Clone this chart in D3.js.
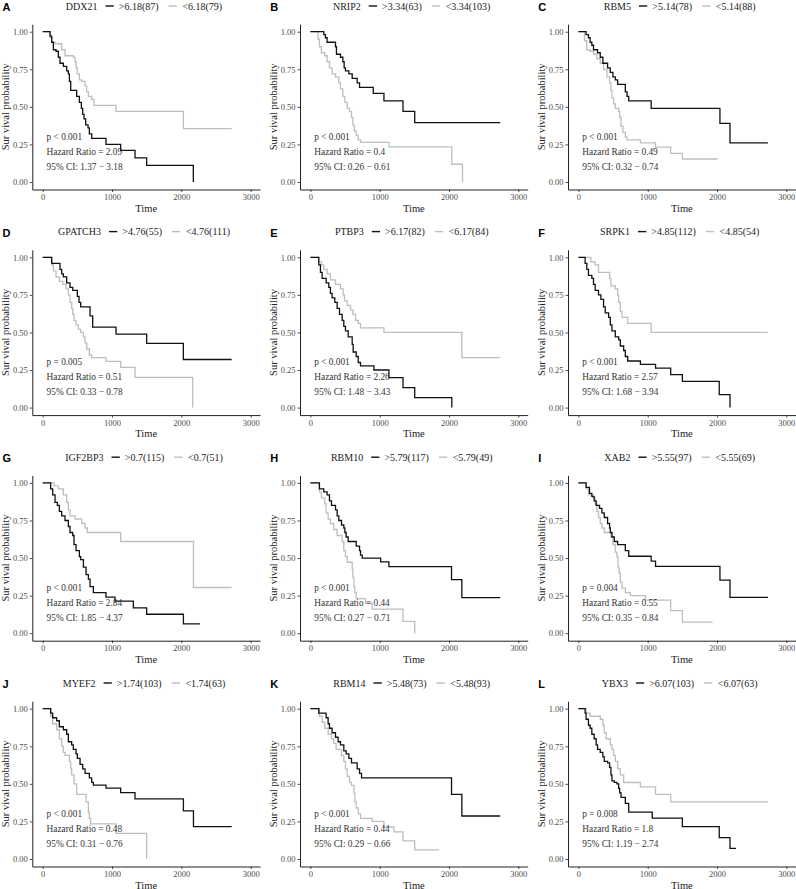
<!DOCTYPE html>
<html>
<head>
<meta charset="utf-8">
<script src="https://cdnjs.cloudflare.com/ajax/libs/d3/7.8.5/d3.min.js"></script>
<style>
  body { margin: 0; background: #fff; }
  text { font-family: 'Liberation Serif', 'Times New Roman', serif; }
</style>
</head>
<body>
<svg></svg>
<script>
'use strict';

// Panel labels and texts
var panelLetters = ['A', 'B', 'C', 'D', 'E', 'F', 'G', 'H', 'I', 'J', 'K', 'L'];
var genes = ['DDX21', 'NRIP2', 'RBM5', 'GPATCH3', 'PTBP3', 'SRPK1', 'IGF2BP3', 'RBM10', 'XAB2', 'MYEF2', 'RBM14', 'YBX3'];
var cutoffs = ['6.18', '3.34', '5.14', '4.76', '6.17', '4.85', '0.7', '5.79', '5.55', '1.74', '5.48', '6.07'];
var highN = [87, 63, 78, 55, 82, 112, 115, 117, 97, 103, 73, 103];
var lowN = [79, 103, 88, 111, 84, 54, 51, 49, 69, 63, 93, 63];
var pLabels = ['p < 0.001', 'p < 0.001', 'p < 0.001', 'p = 0.005', 'p < 0.001', 'p < 0.001',
  'p < 0.001', 'p < 0.001', 'p = 0.004', 'p < 0.001', 'p < 0.001', 'p = 0.008'];
var hazardRatios = ['2.09', '0.4', '0.49', '0.51', '2.26', '2.57', '2.84', '0.44', '0.55', '0.48', '0.44', '1.8'];
var ciLabels = ['1.37 \u2212 3.18', '0.26 \u2212 0.61', '0.32 \u2212 0.74', '0.33 \u2212 0.78', '1.48 \u2212 3.43', '1.68 \u2212 3.94',
  '1.85 \u2212 4.37', '0.27 \u2212 0.71', '0.35 \u2212 0.84', '0.31 \u2212 0.76', '0.29 \u2212 0.66', '1.19 \u2212 2.74'];
var xTicks = [0, 1000, 2000, 3000];
var yTicks = [0, 0.25, 0.5, 0.75, 1];

// Kaplan-Meier steps: [time, survival after that time]
var ddx21High = [[0,1],[106,.97],[130,.93],[154,.88],[192,.87],[226,.83],[250,.79],[298,.77],[346,.74],[370,.72],[385,.67],[404,.61],[490,.57],[529,.53],[558,.49],[577,.45],[596,.42],[620,.38],[654,.36],[673,.32],[707,.29],[913,.25],[1125,.21],[1332,.16],[1500,.11],[2173,0]];
var ddx21Low = [[0,1],[106,.96],[130,.93],[178,.92],[274,.88],[322,.84],[442,.83],[466,.80],[481,.76],[500,.72],[529,.68],[563,.67],[611,.64],[635,.60],[659,.57],[707,.55],[740,.51],[1058,.47],[2030,.355],[2726,.355]];
var nrip2High = [[0,1],[193,.98],[217,.96],[241,.93],[362,.90],[376,.85],[434,.83],[468,.80],[487,.76],[506,.74],[555,.72],[603,.69],[675,.66],[709,.63],[907,.59],[1061,.54],[1336,.47],[1505,.395],[2739,.395]];
var nrip2Low = [[0,1],[111,.95],[130,.90],[159,.86],[207,.84],[241,.80],[275,.76],[313,.72],[362,.70],[410,.66],[434,.62],[468,.57],[497,.53],[531,.49],[564,.47],[593,.43],[613,.38],[632,.34],[661,.31],[690,.28],[723,.264],[1133,.233],[2040,.118],[2194,0]];
var rbm5High = [[0,1],[111,.98],[145,.96],[169,.93],[194,.91],[218,.88],[276,.86],[315,.83],[353,.79],[421,.76],[460,.73],[498,.70],[532,.68],[566,.65],[677,.60],[702,.57],[726,.54],[1050,.49],[2042,.39],[2187,.26],[2734,.26]];
var rbm5Low = [[0,1],[87,.94],[121,.88],[169,.87],[218,.85],[266,.82],[315,.79],[363,.75],[411,.70],[450,.66],[469,.61],[484,.56],[508,.52],[532,.49],[581,.47],[595,.43],[615,.37],[643,.33],[677,.30],[702,.28],[895,.26],[1113,.232],[1331,.19],[1500,.153],[2008,.153]];
var gpatch3High = [[0,1],[130,.96],[250,.92],[274,.89],[298,.87],[346,.83],[394,.80],[433,.78],[500,.74],[524,.70],[548,.67],[683,.61],[721,.535],[1058,.489],[1500,.427],[2029,.32],[2726,.32]];
var gpatch3Low = [[0,1],[130,.95],[154,.91],[192,.87],[240,.84],[288,.82],[337,.79],[370,.75],[394,.70],[418,.66],[433,.62],[452,.58],[481,.55],[514,.52],[548,.50],[587,.47],[611,.43],[635,.39],[673,.35],[707,.332],[913,.308],[1125,.268],[1332,.201],[2164,0]];
var ptbp3High = [[0,1],[121,.95],[145,.90],[169,.86],[227,.83],[265,.80],[289,.76],[313,.73],[352,.70],[386,.66],[420,.62],[458,.58],[482,.54],[506,.51],[545,.47],[603,.42],[617,.37],[661,.34],[690,.30],[723,.277],[916,.25],[1133,.20],[1336,.133],[1505,.066],[2040,0]];
var ptbp3Low = [[0,1],[121,.97],[159,.95],[193,.92],[241,.89],[289,.85],[362,.82],[434,.79],[473,.75],[492,.71],[531,.68],[579,.65],[613,.62],[651,.58],[690,.56],[723,.53],[1061,.50],[2185,.332],[2739,.332]];
var srpk1High = [[0,1],[97,.96],[121,.92],[145,.88],[194,.86],[218,.82],[242,.78],[290,.75],[324,.72],[363,.67],[387,.63],[436,.60],[460,.55],[484,.51],[532,.47],[581,.45],[605,.41],[653,.38],[677,.34],[711,.31],[895,.288],[1113,.263],[1331,.219],[1500,.175],[2032,.086],[2187,0]];
var srpk1Low = [[0,1],[179,.97],[242,.95],[290,.90],[450,.86],[469,.81],[532,.79],[566,.75],[581,.70],[605,.64],[629,.60],[711,.56],[1050,.50],[2734,.50]];
var igf2bp3High = [[0,1],[115,.96],[144,.92],[178,.87],[212,.85],[240,.81],[274,.78],[322,.75],[370,.71],[394,.67],[433,.65],[452,.59],[481,.55],[529,.51],[548,.49],[587,.44],[625,.39],[659,.36],[683,.31],[731,.27],[913,.24],[1043,.213],[1308,.169],[1500,.126],[2030,.062],[2269,.062]];
var igf2bp3Low = [[0,1],[163,.98],[226,.96],[298,.92],[346,.87],[370,.82],[394,.78],[466,.76],[563,.73],[611,.70],[644,.67],[1125,.61],[2175,.304],[2726,.304]];
var rbm10High = [[0,1],[130,.96],[193,.94],[241,.92],[275,.88],[304,.85],[362,.82],[386,.78],[410,.75],[449,.72],[482,.70],[497,.67],[516,.64],[545,.61],[661,.58],[709,.55],[723,.52],[748,.50],[1013,.474],[1133,.443],[2036,.357],[2185,.237],[2739,.237]];
var rbm10Low = [[0,1],[130,.94],[159,.90],[207,.86],[227,.80],[256,.76],[289,.73],[338,.69],[386,.65],[458,.61],[482,.55],[506,.51],[531,.472],[603,.43],[613,.37],[627,.31],[641,.27],[661,.23],[796,.20],[892,.16],[1336,.078],[1505,0]];
var xab2High = [[0,1],[111,.97],[160,.93],[194,.91],[227,.88],[256,.85],[305,.83],[339,.80],[373,.77],[421,.73],[450,.70],[460,.67],[484,.64],[518,.61],[566,.59],[677,.55],[726,.512],[1050,.48],[1113,.444],[2042,.353],[2187,.238],[2734,.238]];
var xab2Low = [[0,1],[111,.96],[145,.92],[208,.90],[242,.86],[266,.81],[290,.77],[315,.73],[339,.70],[373,.67],[469,.64],[498,.59],[532,.54],[556,.51],[571,.44],[586,.40],[605,.34],[629,.30],[677,.27],[750,.25],[968,.22],[1331,.15],[1500,.073],[1936,.073]];
var myef2High = [[0,1],[115,.97],[144,.94],[202,.92],[240,.88],[298,.86],[346,.83],[370,.78],[418,.76],[442,.73],[481,.70],[500,.67],[539,.63],[577,.60],[611,.57],[673,.54],[707,.51],[731,.492],[913,.472],[1125,.441],[1332,.40],[2030,.32],[2175,.215],[2726,.215]];
var myef2Low = [[0,1],[115,.95],[144,.90],[202,.86],[240,.80],[274,.75],[298,.71],[322,.69],[385,.65],[404,.60],[418,.56],[452,.50],[490,.43],[625,.38],[659,.31],[673,.27],[692,.233],[1058,.171],[1500,0]];
var rbm14High = [[0,1],[121,.97],[227,.94],[256,.90],[275,.87],[313,.84],[362,.81],[400,.78],[434,.76],[482,.72],[516,.70],[555,.67],[593,.64],[675,.60],[709,.57],[738,.54],[2036,.43],[2185,.286],[2739,.286]];
var rbm14Low = [[0,1],[130,.95],[169,.91],[207,.87],[256,.83],[304,.80],[338,.77],[371,.73],[449,.69],[482,.65],[506,.60],[531,.55],[564,.51],[593,.49],[627,.44],[641,.38],[661,.34],[690,.30],[723,.27],[892,.25],[1061,.213],[1206,.18],[1336,.12],[1505,.06],[1857,.06]];
var ybx3High = [[0,1],[97,.97],[111,.93],[145,.89],[169,.87],[194,.83],[227,.80],[256,.76],[276,.73],[315,.71],[353,.68],[373,.65],[421,.64],[450,.61],[469,.56],[484,.52],[518,.51],[556,.50],[581,.47],[595,.44],[615,.41],[677,.37],[726,.312],[1065,.272],[1500,.215],[2032,.142],[2187,.071],[2274,.071]];
var ybx3Low = [[0,1],[111,.97],[169,.95],[315,.93],[353,.89],[373,.84],[402,.80],[460,.76],[484,.73],[508,.69],[532,.65],[566,.60],[605,.56],[653,.509],[895,.48],[1113,.43],[1331,.38],[2734,.38]];

var highCurves = [ddx21High, nrip2High, rbm5High, gpatch3High, ptbp3High, srpk1High,
  igf2bp3High, rbm10High, xab2High, myef2High, rbm14High, ybx3High];
var lowCurves = [ddx21Low, nrip2Low, rbm5Low, gpatch3Low, ptbp3Low, srpk1Low,
  igf2bp3Low, rbm10Low, xab2Low, myef2Low, rbm14Low, ybx3Low];

var canvasWidth = 796;
var canvasHeight = 889;
var colX = [0, 267.7, 535.7];
var rowY = [0, 225.6, 451.2, 677];
var highColor = '#111111';
var lowColor = '#bebebe';

var svg = d3.select('svg')
  .attr('width', canvasWidth)
  .attr('height', canvasHeight);
svg.append('rect').attr('width', canvasWidth).attr('height', canvasHeight).attr('fill', '#fff');

// same scales for every panel (panel-local coordinates)
var xScale = d3.scaleLinear().domain([-150, 3135]).range([32.3, 260]);
var yScale = d3.scaleLinear().domain([-0.05, 1.05]).range([189.5, 24.2]);
var plotMid = 144;

var stepLine = d3.line()
  .x(function(d) { return xScale(d[0]); })
  .y(function(d) { return yScale(d[1]); })
  .curve(d3.curveStepAfter);

genes.forEach(function(gene, i) {
  var col = i % 3;
  var row = Math.floor(i / 3);
  var g = svg.append('g')
    .attr('transform', 'translate(' + colX[col] + ',' + rowY[row] + ')');

  // panel letter
  g.append('text')
    .attr('x', 2.5)
    .attr('y', 11)
    .style('font-family', "'Liberation Sans', Arial, sans-serif")
    .style('font-weight', 'bold')
    .style('font-size', '11px')
    .text(panelLetters[i]);

  // legend line on top
  var leg = g.append('g');
  var cursor = 0;
  var t1 = leg.append('text').attr('x', cursor).attr('y', 9.5)
    .style('font-size', '10px').attr('fill', '#222').text(gene);
  cursor += t1.node().getComputedTextLength() + 8;
  leg.append('line').attr('x1', cursor).attr('x2', cursor + 8.3).attr('y1', 6).attr('y2', 6)
    .attr('stroke', highColor).attr('stroke-width', 1.4);
  cursor += 8.3 + 5;
  var t2 = leg.append('text').attr('x', cursor).attr('y', 9.5)
    .style('font-size', '10px').attr('fill', '#222').text('>' + cutoffs[i] + '(' + highN[i] + ')');
  cursor += t2.node().getComputedTextLength() + 10;
  leg.append('line').attr('x1', cursor).attr('x2', cursor + 8.3).attr('y1', 6).attr('y2', 6)
    .attr('stroke', lowColor).attr('stroke-width', 1.4);
  cursor += 8.3 + 5.5;
  var t3 = leg.append('text').attr('x', cursor).attr('y', 9.5)
    .style('font-size', '10px').attr('fill', '#222').text('<' + cutoffs[i] + '(' + lowN[i] + ')');
  cursor += t3.node().getComputedTextLength();
  leg.attr('transform', 'translate(' + (plotMid - cursor / 2) + ',0)');

  // curves
  g.append('path').datum(lowCurves[i])
    .attr('d', stepLine).attr('fill', 'none')
    .attr('stroke', lowColor).attr('stroke-width', 1.3);
  g.append('path').datum(highCurves[i])
    .attr('d', stepLine).attr('fill', 'none')
    .attr('stroke', highColor).attr('stroke-width', 1.3);

  // axes
  var xAxis = g.append('g')
    .attr('transform', 'translate(0,' + yScale.range()[0] + ')')
    .call(d3.axisBottom(xScale).tickValues(xTicks).tickFormat(d3.format('d'))
      .tickSize(2.5).tickSizeOuter(0).tickPadding(2));
  var yAxis = g.append('g')
    .attr('transform', 'translate(' + xScale.range()[0] + ',0)')
    .call(d3.axisLeft(yScale).tickValues(yTicks).tickFormat(d3.format('.2f'))
      .tickSize(2.5).tickSizeOuter(0).tickPadding(2));
  [xAxis, yAxis].forEach(function(ax) {
    ax.select('.domain').attr('stroke', '#222').attr('stroke-width', 1);
    ax.selectAll('.tick line').attr('stroke', '#222').attr('stroke-width', 0.8);
    ax.selectAll('.tick text')
      .style('font-family', "'Liberation Serif', 'Times New Roman', serif")
      .style('font-size', '8.5px').attr('fill', '#4d4d4d');
  });

  // axis titles
  g.append('text')
    .attr('x', (xScale.range()[0] + xScale.range()[1]) / 2)
    .attr('y', 211.5)
    .attr('text-anchor', 'middle')
    .style('font-size', '10.5px').attr('fill', '#222')
    .text('Time');
  g.append('text')
    .attr('transform', 'translate(9,' + ((yScale.range()[0] + yScale.range()[1]) / 2) + ') rotate(-90)')
    .attr('text-anchor', 'middle')
    .style('font-size', '10.5px').attr('fill', '#222')
    .text('Sur vival probability');

  // statistics annotation
  var ann = [pLabels[i], 'Hazard Ratio = ' + hazardRatios[i], '95% CI: ' + ciLabels[i]];
  ann.forEach(function(line, k) {
    g.append('text')
      .attr('x', 46.6)
      .attr('y', 139.7 + k * 15)
      .style('font-size', '9.3px').attr('fill', '#333')
      .text(line);
  });
});
</script>
</body>
</html>
